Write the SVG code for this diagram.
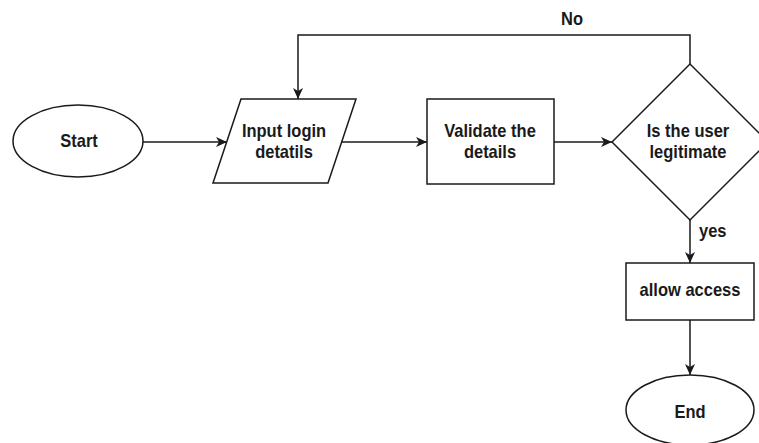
<svg xmlns="http://www.w3.org/2000/svg" width="759" height="443" viewBox="0 0 759 443">
  <style>
    .shape { fill: #ffffff; stroke: #1a1a1a; stroke-width: 1.5; }
    .edge { fill: none; stroke: #1a1a1a; stroke-width: 1.5; }
    .lbl { font-family: "Liberation Sans", Arial, sans-serif; font-weight: bold; font-size: 16.5px; fill: #1a1a1a; text-anchor: middle; }
    .tag { font-family: "Liberation Sans", Arial, sans-serif; font-weight: bold; font-size: 16.5px; fill: #1a1a1a; }
  </style>
  <defs>
    <marker id="arrow" markerUnits="userSpaceOnUse" markerWidth="12" markerHeight="10" refX="11" refY="5" orient="auto">
      <path d="M0,0 L11,5 L0,10 L3,5 Z" fill="#1a1a1a"/>
    </marker>
  </defs>
  <rect width="759" height="443" fill="#ffffff"/>

  <g id="connectors">
    <line class="edge" x1="143" y1="142" x2="227" y2="142" marker-end="url(#arrow)"/>
    <line class="edge" x1="342" y1="142" x2="427" y2="142" marker-end="url(#arrow)"/>
    <line class="edge" x1="554" y1="142" x2="612" y2="142" marker-end="url(#arrow)"/>
    <polyline class="edge" points="690,64 690,35 298,35 298,99" marker-end="url(#arrow)"/>
    <line class="edge" x1="690" y1="220" x2="690" y2="263" marker-end="url(#arrow)"/>
    <line class="edge" x1="690" y1="320" x2="690" y2="375" marker-end="url(#arrow)"/>
    <text class="tag" transform="translate(561,25) scale(1,1.15)">No</text>
    <text class="tag" transform="translate(699,237) scale(1,1.15)">yes</text>
  </g>

  <g id="start">
    <ellipse class="shape" cx="78" cy="141" rx="65" ry="36"/>
    <text class="lbl" transform="translate(79,147) scale(1,1.15)">Start</text>
  </g>

  <g id="input">
    <polygon class="shape" points="241,99 356,99 328,183 213,183"/>
    <text class="lbl" transform="translate(284,137) scale(1,1.15)">Input login</text>
    <text class="lbl" transform="translate(284,158) scale(1,1.15)">detatils</text>
  </g>

  <g id="validate">
    <rect class="shape" x="427" y="99" width="127" height="85"/>
    <text class="lbl" transform="translate(490,137) scale(1,1.15)">Validate the</text>
    <text class="lbl" transform="translate(490,158) scale(1,1.15)">details</text>
  </g>

  <g id="decision">
    <polygon class="shape" points="612,142 690,64 768,142 690,220"/>
    <text class="lbl" transform="translate(688,137) scale(1,1.15)">Is the user</text>
    <text class="lbl" transform="translate(688,158) scale(1,1.15)">legitimate</text>
  </g>

  <g id="allow">
    <rect class="shape" x="626" y="263" width="128" height="57"/>
    <text class="lbl" transform="translate(690,296) scale(1,1.15)">allow access</text>
  </g>

  <g id="end">
    <ellipse class="shape" cx="690" cy="410" rx="64" ry="35"/>
    <text class="lbl" transform="translate(690,418) scale(1,1.15)">End</text>
  </g>
</svg>
